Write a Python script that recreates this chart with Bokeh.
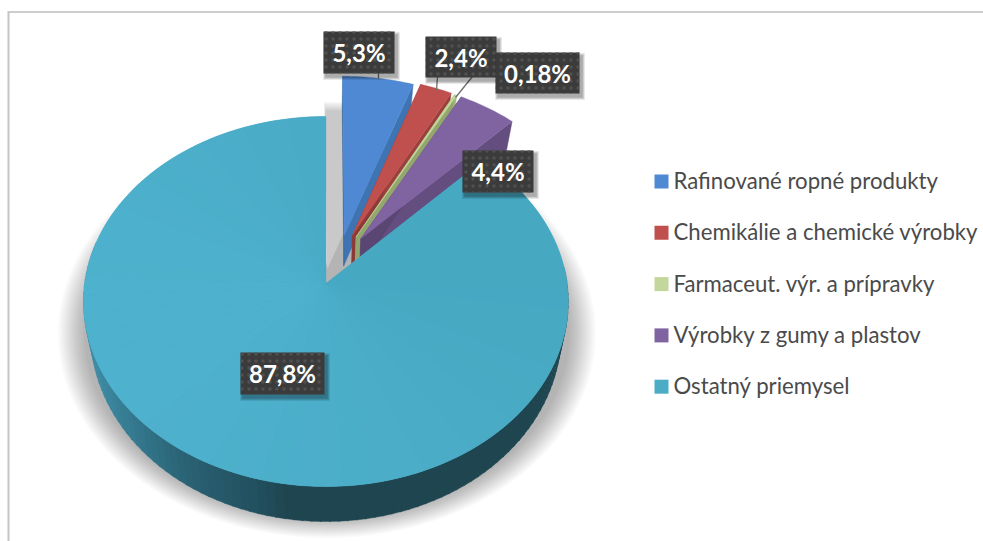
import math
from bokeh.plotting import figure
from bokeh.models import Range1d
from bokeh.core.properties import value
from bokeh.embed import file_html
from bokeh.resources import INLINE

# ---- data
categories = ["Rafinované ropné produkty", "Chemikálie a chemické výrobky",
              "Farmaceut. výr. a prípravky", "Výrobky z gumy a plastov", "Ostatný priemysel"]
shares = [5.3, 2.4, 0.18, 4.4, 87.8]
share_labels = ["5,3%", "2,4%", "0,18%", "4,4%", "87,8%"]

# ---- styles
top_colors = ["#4f89d3", "#c0504d", "#c3d69b", "#8064a2", "#4bacc6"]
wall_colors = ["#3f74b2", "#9c403e", "#a3b97a", "#644e80", "#1f4650"]
label_font = "Lato"
W, H = 983, 541

p = figure(width=W, height=H, output_backend="svg", toolbar_location=None,
           x_range=Range1d(0, W), y_range=Range1d(H, 0),
           min_border=0, outline_line_color=None, background_fill_color="white",
           border_fill_color="white")
p.axis.visible = False
p.grid.visible = False

# ---- perspective pie geometry
CX, CY, RX, RY, K = 325.4, 283.0, 241.2, 183.3, 0.0973
DEPTH, SHRINK = 31.6, 0.97
explode = [(0.078, 0.27), (0.113, 0.27), (0.128, 0.26), (0.148, 0.25), (0.0, 0.0)]


def proj(X, Y):
    s = 1.0 / (1.0 + K * Y)
    return CX + RX * X * s, CY - RY * Y * s, s


def top_pt(a, r=1.0, off=(0, 0)):
    t = math.radians(a)
    return proj(r * math.sin(t) + off[0], r * math.cos(t) + off[1])


def low(pt):
    x, y, s = pt
    return CX + (x - CX) * SHRINK, y + DEPTH * s


def lerp(c1, c2, t):
    t = max(0.0, min(1.0, t))
    a = [int(c1[i:i + 2], 16) for i in (1, 3, 5)]
    b = [int(c2[i:i + 2], 16) for i in (1, 3, 5)]
    return "#%02x%02x%02x" % tuple(round(u + (v - u) * t) for u, v in zip(a, b))


total = sum(shares)
edges = [0.0]
for v in shares:
    edges.append(edges[-1] + v / total * 360.0)

# soft shadow under the whole pie
full = [top_pt(a) for a in range(0, 360, 3)]
N = 16
for i in range(N):
    f = 1 - i / (N - 1)
    sx = 1.0 + 0.11 * f
    sy = 1.0 + 0.105 * f
    xs = [CX + 1 + (q[0] - CX) * sx for q in full]
    ys = [333 + (q[1] - 301) * sy for q in full]
    p.patch(xs, ys, fill_color="black", fill_alpha=0.019, line_color=None)

# shadow thrown by the exploded blue slice on the gap
for i in range(6):
    a0, a1 = edges[0], edges[1]
    off = explode[0]
    arc = [top_pt(a0 + (a1 - a0) * j / 12, 1.0, off) for j in range(13)]
    apex = proj(off[0], off[1])
    xs = [apex[0] - 17 - (5 - i) * 0.3] + [q[0] - 17 - (5 - i) * 0.3 for q in arc]
    ys = [apex[1] + 26 + i * 1.6] + [q[1] + 26 + i * 1.6 for q in arc]
    c = lerp("#f2f2f2", "#c9c9c9", i / 5)
    p.patch(xs, ys, fill_color=c, line_color=None)

# exploded slices: radial wall first, then top face
for i in range(4):
    a0, a1 = edges[i], edges[i + 1]
    off = explode[i]
    apex = proj(off[0], off[1])
    outer_end = top_pt(a1, 1.0, off)
    outer_start = top_pt(a0, 1.0, off)
    for edge_pt, col in ((outer_end, wall_colors[i]), (outer_start, lerp(wall_colors[i], "#000000", .1))):
        la, lb = low(apex), low(edge_pt)
        p.patch([apex[0], edge_pt[0], lb[0], la[0]], [apex[1], edge_pt[1], lb[1], la[1]],
                fill_color=col, line_color=col, line_width=0.4)
    arc = [top_pt(a0 + (a1 - a0) * j / 16, 1.0, off) for j in range(17)]
    p.patch([apex[0]] + [q[0] for q in arc], [apex[1]] + [q[1] for q in arc],
            fill_color=top_colors[i], line_color=top_colors[i], line_width=0.4)

# big slice: visible part of the outer wall, with a shading ramp on the left
a_start, a_end = edges[4], edges[5]
xs_all, ys_all, cols = [], [], []
a = 85.0
step = 2.0
while a < 282:
    b = a + step
    q0, q1 = top_pt(a), top_pt(b + 0.3)
    l0, l1 = low(q0), low(q1)
    mx = (l0[0] + l1[0]) / 2
    if mx < 133:
        c = lerp("#3f90aa", "#357a90", (mx - 88) / 45)
    elif mx < 187:
        c = lerp("#357a90", "#2a6274", (mx - 133) / 54)
    elif mx < 253:
        c = lerp("#2a6274", "#225160", (mx - 187) / 66)
    else:
        c = lerp("#225160", wall_colors[4], (mx - 253) / 34)
    xs_all.append([q0[0], q1[0], l1[0], l0[0]])
    ys_all.append([q0[1], q1[1], l1[1], l0[1]])
    cols.append(c)
    a = b
p.patches(xs_all, ys_all, fill_color=cols, line_color=cols, line_width=0.4)

# big slice: solid base, then a fan with a faint light falloff
apex = proj(0, 0)
n_arc = 160
base = [top_pt(a_start + (a_end - a_start) * j / n_arc) for j in range(n_arc + 1)]
p.patch([apex[0]] + [q[0] for q in base], [apex[1]] + [q[1] for q in base],
        fill_color="#4aacc7", line_color="#4aacc7", line_width=0.4)
xs_all, ys_all, cols = [], [], []
a = a_start
step = 6.0
while a < a_end - 1e-6:
    b = min(a + step, a_end)
    arc = [top_pt(a + (b - a) * j / 4) for j in range(5)]
    xs_all.append([apex[0]] + [q[0] for q in arc])
    ys_all.append([apex[1]] + [q[1] for q in arc])
    m = math.radians((a + b) / 2 - 70)
    cols.append(lerp("#4eb1cd", "#47a8c2", (1 + math.cos(m)) / 2))
    a = b
p.patches(xs_all, ys_all, fill_color=cols, line_color=None)

# leader lines
leaders = [(378, 72, 378, 79), (437, 76, 436, 90), (472, 76, 455, 97)]
for x0, y0, x1, y1 in leaders:
    p.line([x0, x1], [y0, y1], line_color="#6e6e6e", line_width=1.3)

# data labels
boxes = [(323, 31, 394, 73), (425, 36, 496, 77), (495, 52, 579, 93),
         (462, 150, 533, 192), (240, 352, 324, 394)]
for i in range(5):
    x0, y0, x1, y1 = boxes[i]
    for g in range(5):
        grow = 4 - g
        p.quad(left=[x0 + 2 - grow * .6], right=[x1 + 3 + grow * .6], top=[y0 + 3 - grow * .6],
               bottom=[y1 + 4 + grow * .6], fill_color="black", fill_alpha=0.075, line_color=None)
    p.quad(left=[x0], right=[x1], top=[y0], bottom=[y1], fill_color="#3b3b3b", line_color=None,
           hatch_pattern="dot", hatch_color="#505050", hatch_scale=7, hatch_weight=0.7)
    p.text([(x0 + x1) / 2], [(y0 + y1) / 2], text=[share_labels[i]], text_color="white",
           text_font=value(label_font), text_font_style="bold", text_font_size="24px",
           text_align="center", text_baseline="middle")

# legend
for i, name in enumerate(categories):
    yc = 181 + i * 51.3
    p.quad(left=[654], right=[668], top=[yc - 7], bottom=[yc + 7], fill_color=top_colors[i], line_color=None)
    p.text([673], [yc - 1], text=[name], text_color="#4a4a4a", text_font=value(label_font),
           text_font_size="22.2px", text_align="left", text_baseline="middle")

# chart frame
p.line([8, 8], [12, H], line_color="#c4c4c4", line_width=2)
p.line([7, W], [11.5, 11.5], line_color="#bdbdbd", line_width=1.5)

open("out.html", "w").write(file_html(p, INLINE))
